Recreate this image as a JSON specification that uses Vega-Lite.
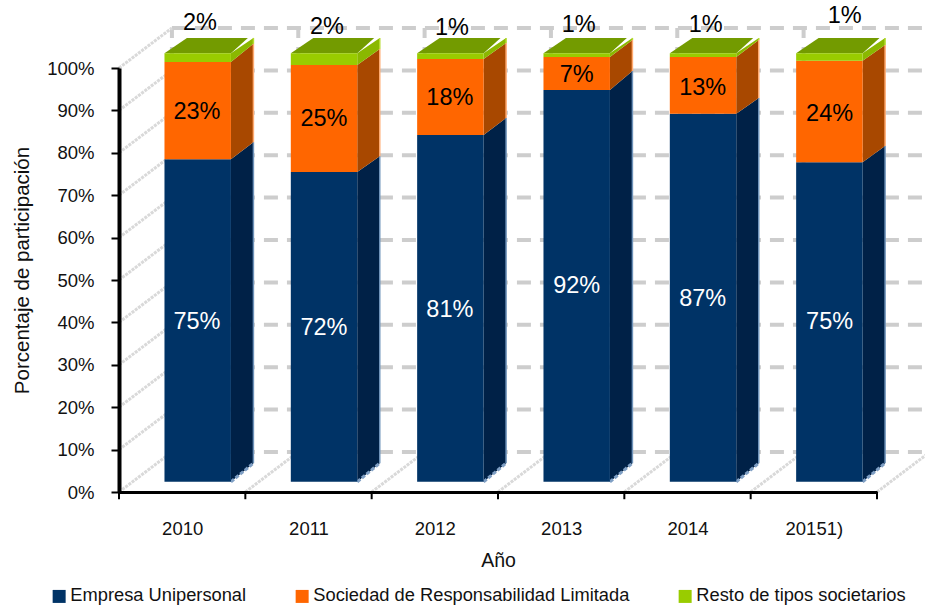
{
"$schema":"https://vega.github.io/schema/vega-lite/v6.json",
"width":758,"height":424,"autosize":"none","padding":{"left":119,"top":68,"right":48,"bottom":119},
"background":"white",
"config":{"view":{"stroke":null},"font":"Liberation Sans","axis":{"grid":false},"text":{"font":"Liberation Sans"}},
"datasets":{
"back":[{"y":9.43,"a":2009.919,"b":2015.877},{"y":19.43,"a":2009.919,"b":2015.877},{"y":29.43,"a":2009.919,"b":2015.877},{"y":39.43,"a":2009.919,"b":2015.877},{"y":49.43,"a":2009.919,"b":2015.877},{"y":59.43,"a":2009.919,"b":2015.877},{"y":69.43,"a":2009.919,"b":2015.877},{"y":79.43,"a":2009.919,"b":2015.877},{"y":89.43,"a":2009.919,"b":2015.877},{"y":99.43,"a":2009.919,"b":2015.877},{"y":109.43,"a":2009.919,"b":2015.877}],
"backv":[{"x":2009.919},{"x":2010.919},{"x":2011.919},{"x":2012.919},{"x":2013.919},{"x":2014.919}],
"diag":[
{"id":"l0","x":2009.5,"y":0},{"id":"l0","x":2009.919,"y":9.43},
{"id":"l1","x":2009.5,"y":10},{"id":"l1","x":2009.919,"y":19.43},
{"id":"l2","x":2009.5,"y":20},{"id":"l2","x":2009.919,"y":29.43},
{"id":"l3","x":2009.5,"y":30},{"id":"l3","x":2009.919,"y":39.43},
{"id":"l4","x":2009.5,"y":40},{"id":"l4","x":2009.919,"y":49.43},
{"id":"l5","x":2009.5,"y":50},{"id":"l5","x":2009.919,"y":59.43},
{"id":"l6","x":2009.5,"y":60},{"id":"l6","x":2009.919,"y":69.43},
{"id":"l7","x":2009.5,"y":70},{"id":"l7","x":2009.919,"y":79.43},
{"id":"l8","x":2009.5,"y":80},{"id":"l8","x":2009.919,"y":89.43},
{"id":"l9","x":2009.5,"y":90},{"id":"l9","x":2009.919,"y":99.43},
{"id":"l10","x":2009.5,"y":100},{"id":"l10","x":2009.919,"y":109.43},
{"id":"f1","x":2010.5,"y":0},{"id":"f1","x":2010.919,"y":9.43},
{"id":"f2","x":2011.5,"y":0},{"id":"f2","x":2011.919,"y":9.43},
{"id":"f3","x":2012.5,"y":0},{"id":"f3","x":2012.919,"y":9.43},
{"id":"f4","x":2013.5,"y":0},{"id":"f4","x":2013.919,"y":9.43},
{"id":"f5","x":2014.5,"y":0},{"id":"f5","x":2014.919,"y":9.43},
{"id":"f6","x":2015.5,"y":0},{"id":"f6","x":2015.919,"y":9.43}],
"ticks":[{"x":2009.5},{"x":2010.5},{"x":2011.5},{"x":2012.5},{"x":2013.5},{"x":2014.5},{"x":2015.5}],
"front":[
{"a":2009.86,"b":2010.386,"s":"Empresa Unipersonal","lo":2.4,"hi":78.5},
{"a":2009.86,"b":2010.386,"s":"Sociedad de Responsabilidad Limitada","lo":78.5,"hi":101.4},
{"a":2009.86,"b":2010.386,"s":"Resto de tipos societarios","lo":101.4,"hi":103.5},
{"a":2010.86,"b":2011.386,"s":"Empresa Unipersonal","lo":2.4,"hi":75.5},
{"a":2010.86,"b":2011.386,"s":"Sociedad de Responsabilidad Limitada","lo":75.5,"hi":100.7},
{"a":2010.86,"b":2011.386,"s":"Resto de tipos societarios","lo":100.7,"hi":103.5},
{"a":2011.86,"b":2012.386,"s":"Empresa Unipersonal","lo":2.4,"hi":84.2},
{"a":2011.86,"b":2012.386,"s":"Sociedad de Responsabilidad Limitada","lo":84.2,"hi":102.1},
{"a":2011.86,"b":2012.386,"s":"Resto de tipos societarios","lo":102.1,"hi":103.5},
{"a":2012.86,"b":2013.386,"s":"Empresa Unipersonal","lo":2.4,"hi":94.8},
{"a":2012.86,"b":2013.386,"s":"Sociedad de Responsabilidad Limitada","lo":94.8,"hi":102.6},
{"a":2012.86,"b":2013.386,"s":"Resto de tipos societarios","lo":102.6,"hi":103.5},
{"a":2013.86,"b":2014.386,"s":"Empresa Unipersonal","lo":2.4,"hi":89.2},
{"a":2013.86,"b":2014.386,"s":"Sociedad de Responsabilidad Limitada","lo":89.2,"hi":102.6},
{"a":2013.86,"b":2014.386,"s":"Resto de tipos societarios","lo":102.6,"hi":103.5},
{"a":2014.86,"b":2015.386,"s":"Empresa Unipersonal","lo":2.4,"hi":77.8},
{"a":2014.86,"b":2015.386,"s":"Sociedad de Responsabilidad Limitada","lo":77.8,"hi":101.7},
{"a":2014.86,"b":2015.386,"s":"Resto de tipos societarios","lo":101.7,"hi":103.5}],
"side":[
{"f":"0E","s":"E","x":2010.386,"lo":2.4,"hi":78.5},{"f":"0E","s":"E","x":2010.564,"lo":6.8,"hi":82.5},
{"f":"0S","s":"S","x":2010.386,"lo":78.5,"hi":101.4},{"f":"0S","s":"S","x":2010.564,"lo":82.5,"hi":105.7},
{"f":"0R","s":"R","x":2010.386,"lo":101.4,"hi":103.5},{"f":"0R","s":"R","x":2010.564,"lo":105.7,"hi":107.1},
{"f":"1E","s":"E","x":2011.386,"lo":2.4,"hi":75.5},{"f":"1E","s":"E","x":2011.564,"lo":6.8,"hi":79.2},
{"f":"1S","s":"S","x":2011.386,"lo":75.5,"hi":100.7},{"f":"1S","s":"S","x":2011.564,"lo":79.2,"hi":104.5},
{"f":"1R","s":"R","x":2011.386,"lo":100.7,"hi":103.5},{"f":"1R","s":"R","x":2011.564,"lo":104.5,"hi":107.1},
{"f":"2E","s":"E","x":2012.386,"lo":2.4,"hi":84.2},{"f":"2E","s":"E","x":2012.564,"lo":6.8,"hi":88.2},
{"f":"2S","s":"S","x":2012.386,"lo":84.2,"hi":102.1},{"f":"2S","s":"S","x":2012.564,"lo":88.2,"hi":105.9},
{"f":"2R","s":"R","x":2012.386,"lo":102.1,"hi":103.5},{"f":"2R","s":"R","x":2012.564,"lo":105.9,"hi":107.1},
{"f":"3E","s":"E","x":2013.386,"lo":2.4,"hi":94.8},{"f":"3E","s":"E","x":2013.564,"lo":6.8,"hi":99.3},
{"f":"3S","s":"S","x":2013.386,"lo":94.8,"hi":102.6},{"f":"3S","s":"S","x":2013.564,"lo":99.3,"hi":106.6},
{"f":"3R","s":"R","x":2013.386,"lo":102.6,"hi":103.5},{"f":"3R","s":"R","x":2013.564,"lo":106.6,"hi":107.1},
{"f":"4E","s":"E","x":2014.386,"lo":2.4,"hi":89.2},{"f":"4E","s":"E","x":2014.564,"lo":6.8,"hi":92.9},
{"f":"4S","s":"S","x":2014.386,"lo":89.2,"hi":102.6},{"f":"4S","s":"S","x":2014.564,"lo":92.9,"hi":106.6},
{"f":"4R","s":"R","x":2014.386,"lo":102.6,"hi":103.5},{"f":"4R","s":"R","x":2014.564,"lo":106.6,"hi":107.1},
{"f":"5E","s":"E","x":2015.386,"lo":2.4,"hi":77.8},{"f":"5E","s":"E","x":2015.564,"lo":6.8,"hi":81.6},
{"f":"5S","s":"S","x":2015.386,"lo":77.8,"hi":101.7},{"f":"5S","s":"S","x":2015.564,"lo":81.6,"hi":105.4},
{"f":"5R","s":"R","x":2015.386,"lo":101.7,"hi":103.5},{"f":"5R","s":"R","x":2015.564,"lo":105.4,"hi":107.1}],
"top":[
{"f":"0","y":103.5,"a":2009.86,"b":2010.386},{"f":"0","y":107.1,"a":2010.038,"b":2010.52},
{"f":"1","y":103.5,"a":2010.86,"b":2011.386},{"f":"1","y":107.1,"a":2011.038,"b":2011.52},
{"f":"2","y":103.5,"a":2011.86,"b":2012.386},{"f":"2","y":107.1,"a":2012.038,"b":2012.52},
{"f":"3","y":103.5,"a":2012.86,"b":2013.386},{"f":"3","y":107.1,"a":2013.038,"b":2013.52},
{"f":"4","y":103.5,"a":2013.86,"b":2014.386},{"f":"4","y":107.1,"a":2014.038,"b":2014.52},
{"f":"5","y":103.5,"a":2014.86,"b":2015.386},{"f":"5","y":107.1,"a":2015.038,"b":2015.52}],
"labels":[
{"x":2010.117,"y":40.3,"t":"75%","k":"w"},{"x":2010.117,"y":89.9,"t":"23%","k":"b"},{"x":2010.141,"y":110.8,"t":"2%","k":"b"},
{"x":2011.122,"y":38.9,"t":"72%","k":"w"},{"x":2011.122,"y":88.2,"t":"25%","k":"b"},{"x":2011.146,"y":109.9,"t":"2%","k":"b"},
{"x":2012.119,"y":43.2,"t":"81%","k":"w"},{"x":2012.119,"y":93.2,"t":"18%","k":"b"},{"x":2012.135,"y":109.7,"t":"1%","k":"b"},
{"x":2013.123,"y":48.8,"t":"92%","k":"w"},{"x":2013.123,"y":98.6,"t":"7%","k":"b"},{"x":2013.139,"y":110.4,"t":"1%","k":"b"},
{"x":2014.12,"y":45.8,"t":"87%","k":"w"},{"x":2014.12,"y":95.5,"t":"13%","k":"b"},{"x":2014.144,"y":110.4,"t":"1%","k":"b"},
{"x":2015.125,"y":40.3,"t":"75%","k":"w"},{"x":2015.125,"y":89.4,"t":"24%","k":"b"},{"x":2015.244,"y":112.5,"t":"1%","k":"b"}]
},
"resolve":{"scale":{"color":"independent"}},
"encoding":{},
"layer":[
{"data":{"name":"back"},"mark":{"type":"rule","stroke":"#cdcdcd","strokeWidth":4,"strokeDash":[14,9]},
 "encoding":{"y":{"field":"y","type":"quantitative","scale":{"domain":[0,100],"nice":false,"zero":false},
   "axis":{"values":[0,10,20,30,40,50,60,70,80,90,100],"labelExpr":"datum.value+'%'","title":"Porcentaje de participación","titleFont":"Liberation Sans","titleFontSize":20.5,"titleFontWeight":"normal","titleColor":"#111","titleX":-87,"titleY":202,"titleAngle":-90,"domainColor":"black","domainWidth":4,"tickColor":"black","tickWidth":2,"tickSize":8,"labelFont":"Liberation Sans","labelFontSize":18.5,"labelColor":"#111","labelPadding":17,"zindex":1}},
   "x":{"field":"a","type":"quantitative","scale":{"domain":[2009.5,2015.5],"nice":false,"zero":false},
   "axis":{"values":[2010,2011,2012,2013,2014,2015],"labelExpr":"datum.value==2015?'20151)':''+datum.value","title":"Año","titleFont":"Liberation Sans","titleFontSize":19.5,"titleFontWeight":"normal","titleColor":"#111","titleY":59,"tickSize":0,"domainColor":"black","domainWidth":3,"labelFont":"Liberation Sans","labelFontSize":18.5,"labelColor":"#111","labelPadding":27,"labelFlush":false,"labelOverlap":false,"zindex":1}},
   "x2":{"field":"b"}}},
{"data":{"name":"backv"},"mark":{"type":"rule","stroke":"#cdcdcd","strokeWidth":4,"strokeDash":[14,9]},
 "encoding":{"x":{"field":"x","type":"quantitative"},"y":{"datum":9.43,"type":"quantitative"},"y2":{"datum":109.43}}},
{"data":{"name":"diag"},"mark":{"type":"line","stroke":"#d9d9d9","strokeWidth":3,"strokeDash":[3,1]},
 "encoding":{"x":{"field":"x","type":"quantitative"},"y":{"field":"y","type":"quantitative"},"detail":{"field":"id"}}},
{"data":{"name":"ticks"},"mark":{"type":"rule","stroke":"black","strokeWidth":2},
 "encoding":{"x":{"field":"x","type":"quantitative"},"y":{"datum":0,"type":"quantitative"},"y2":{"datum":-1.7}}},
{"data":{"name":"side"},"mark":{"type":"area","interpolate":"linear"},
 "encoding":{"x":{"field":"x","type":"quantitative"},"y":{"field":"lo","type":"quantitative"},"y2":{"field":"hi"},"detail":{"field":"f"},
  "color":{"field":"s","type":"nominal","scale":{"domain":["E","S","R"],"range":["#002147","#a84800","#8ab800"]},"legend":null}}},
{"data":{"name":"side"},"transform":[{"filter":"datum.x % 1 > 0.5"}],"mark":{"type":"rule","strokeWidth":1.5},
 "encoding":{"x":{"field":"x","type":"quantitative"},"y":{"field":"lo","type":"quantitative"},"y2":{"field":"hi"},
  "color":{"field":"s","type":"nominal","scale":{"domain":["E","S","R"],"range":["#6f93ba","#ffaa70","#b5dc30"]},"legend":null}}},
{"data":{"name":"side"},"transform":[{"filter":"datum.s == 'E'"}],"mark":{"type":"line","stroke":"#7f9fc4","strokeWidth":3,"strokeDash":[4,2]},
 "encoding":{"x":{"field":"x","type":"quantitative"},"y":{"field":"lo","type":"quantitative"},"detail":{"field":"f"}}},
{"data":{"name":"top"},"mark":{"type":"area","orient":"horizontal","fill":"#739b00"},
 "encoding":{"y":{"field":"y","type":"quantitative"},"x":{"field":"a","type":"quantitative"},"x2":{"field":"b"},"detail":{"field":"f"}}},
{"data":{"name":"front"},"mark":{"type":"bar"},
 "encoding":{"x":{"field":"a","type":"quantitative"},"x2":{"field":"b"},"y":{"field":"lo","type":"quantitative"},"y2":{"field":"hi"},
  "color":{"field":"s","type":"nominal","scale":{"domain":["Empresa Unipersonal","Sociedad de Responsabilidad Limitada","Resto de tipos societarios"],"range":["#003366","#ff6600","#99cc00"]},
   "legend":{"title":null,"orient":"none","legendX":-69,"legendY":519,"direction":"horizontal","symbolType":"square","symbolSize":169,"symbolStrokeWidth":0,"labelFont":"Liberation Sans","labelFontSize":18.3,"labelColor":"#111","columnPadding":46,"labelLimit":400,"labelOffset":2}}}},
{"data":{"name":"labels"},"mark":{"type":"text","fontSize":23.5,"baseline":"middle","align":"center","dy":1},
 "encoding":{"x":{"field":"x","type":"quantitative"},"y":{"field":"y","type":"quantitative"},"text":{"field":"t"},
  "color":{"field":"k","type":"nominal","scale":{"domain":["w","b"],"range":["white","black"]},"legend":null}}}
]
}
